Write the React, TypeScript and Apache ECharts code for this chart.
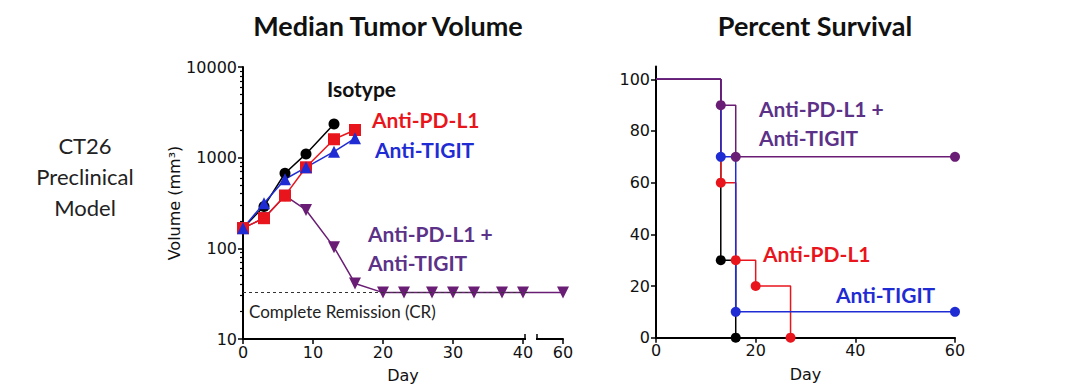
import React, { useEffect, useRef } from "react";
import * as echarts from "echarts";

// ---------- data ----------
const tumorDays = [0, 3, 6, 9, 13, 16];
const isotypeDays = [0, 3, 6, 9, 13];
const isotypeVol = [167, 290, 673, 1100, 2350];
const antiPdl1Vol = [167, 215, 381, 783, 1596, 2020];
const antiTigitVol = [167, 314, 578, 783, 1165, 1637];
const comboDays = [0, 3, 6, 9, 13, 16, 20, 23, 27, 30, 33, 37, 40, 60];
const comboVol = [167, 215, 381, 265, 103, 41, 32.5, 32.5, 32.5, 32.5, 32.5, 32.5, 32.5, 32.5];
const crLevel = 32.5;

const volTicks = [10, 100, 1000, 10000];
const volMinorTicks = [20, 30, 40, 50, 60, 70, 80, 90, 200, 300, 400, 500, 600, 700, 800, 900, 2000, 3000, 4000, 5000, 6000, 7000, 8000, 9000];
const dayTicksLeft = [0, 10, 20, 30, 40, 60];

const isoSurvDays = [0, 13, 16];
const isoSurv = [100, 30, 0];
const pdl1SurvDays = [0, 13, 16, 20, 27];
const pdl1Surv = [100, 60, 30, 20, 0];
const tigitSurvDays = [0, 13, 16, 60];
const tigitSurv = [100, 70, 10, 10];
const comboSurvDays = [0, 13, 16, 60];
const comboSurv = [100, 90, 70, 70];
const survTicks = [0, 20, 40, 60, 80, 100];
const dayTicksRight = [0, 20, 40, 60];

// broken x axis: days 0..40 linear, then a break, 60 placed just after
const breakStart = 40;
const breakEndDisplay = 45.71;
const xDisp = (d: number) => (d <= breakStart ? d : breakStart + ((d - breakStart) / 20) * (breakEndDisplay - breakStart));

const BLACK = "#000000";
const RED = "#e8161c";
const BLUE = "#1f2bd3";
const PURPLE = "#6a1d74";
const PURPLE_TXT = "#5c3288";

const tickFont = { fontFamily: "DejaVu Sans", fontSize: 16, color: "#111" };

export default function App() {
  const ref = useRef<HTMLDivElement>(null);
  useEffect(() => {
    if (!ref.current) return;
    const chart = echarts.init(ref.current, null, { renderer: "svg" });
    const pair = (xs: number[], ys: number[]) => xs.map((x, i) => [xDisp(x), ys[i]]);
    const survPair = (xs: number[], ys: number[]) =>
      xs.map((x, i) => (i === 0 ? { value: [x, ys[i]], symbol: "none" } : { value: [x, ys[i]] }));

    const boldText = (text: string, x: number, y: number, fill: string, size = 21) => ({
      type: "text",
      x,
      y,
      style: { text, fill, font: `bold ${size}px Lato`, textVerticalAlign: "middle" },
    });

    const option: any = {
      animation: false,
      backgroundColor: "#ffffff",
      grid: [
        { left: 243, top: 67, width: 320, height: 272 },
        { left: 656, top: 66.4, width: 299, height: 271.3 },
      ],
      xAxis: [
        {
          gridIndex: 0,
          type: "value",
          min: 0,
          max: breakEndDisplay,
          splitLine: { show: false },
          axisLine: { lineStyle: { color: "#000", width: 2 } },
          axisTick: { length: 5, lineStyle: { color: "#000", width: 1.5 }, customValues: dayTicksLeft.map(xDisp) },
          axisLabel: {
            ...tickFont,
            margin: 5,
            customValues: dayTicksLeft.map(xDisp),
            formatter: (v: number) => {
              const i = dayTicksLeft.map(xDisp).findIndex((t) => Math.abs(t - v) < 1e-6);
              return i >= 0 ? String(dayTicksLeft[i]) : "";
            },
          },
          name: "Day",
          nameLocation: "middle",
          nameGap: 28,
          nameTextStyle: { fontFamily: "DejaVu Sans", fontSize: 16, color: "#111" },
        },
        {
          gridIndex: 1,
          type: "value",
          min: 0,
          max: 60,
          splitLine: { show: false },
          axisLine: { lineStyle: { color: "#000", width: 2 } },
          axisTick: { length: 5, lineStyle: { color: "#000", width: 1.5 }, customValues: dayTicksRight },
          axisLabel: { ...tickFont, margin: 5, customValues: dayTicksRight },
          name: "Day",
          nameLocation: "middle",
          nameGap: 29,
          nameTextStyle: { fontFamily: "DejaVu Sans", fontSize: 16, color: "#111" },
        },
      ],
      yAxis: [
        {
          gridIndex: 0,
          type: "log",
          logBase: 10,
          min: 10,
          max: 10000,
          splitLine: { show: false },
          axisLine: { lineStyle: { color: "#000", width: 2 } },
          axisTick: { length: 5, lineStyle: { color: "#000", width: 1.5 }, customValues: volTicks },
          axisLabel: { ...tickFont, margin: 6, customValues: volTicks, formatter: (v: number) => String(Math.round(v)) },
          name: "Volume (mm³)",
          nameLocation: "middle",
          nameGap: 52,
          nameTextStyle: { fontFamily: "DejaVu Sans", fontSize: 16, color: "#111" },
        },
        {
          gridIndex: 0,
          type: "log",
          logBase: 10,
          min: 10,
          max: 10000,
          position: "left",
          splitLine: { show: false },
          axisLine: { show: false },
          axisTick: { length: 3, lineStyle: { color: "#000", width: 1.2 }, customValues: volMinorTicks },
          axisLabel: { show: false },
        },
        {
          gridIndex: 1,
          type: "value",
          min: 0,
          max: 105,
          splitLine: { show: false },
          axisLine: { lineStyle: { color: "#000", width: 2 } },
          axisTick: { length: 5, lineStyle: { color: "#000", width: 1.5 }, customValues: survTicks },
          axisLabel: { ...tickFont, margin: 6, customValues: survTicks },
        },
      ],
      series: [
        {
          type: "line",
          xAxisIndex: 0,
          yAxisIndex: 0,
          data: pair(isotypeDays, isotypeVol),
          symbol: "circle",
          symbolSize: 11,
          clip: false,
          lineStyle: { color: BLACK, width: 1.5 },
          itemStyle: { color: BLACK },
        },
        {
          type: "line",
          xAxisIndex: 0,
          yAxisIndex: 0,
          data: pair(comboDays, comboVol),
          symbol: "triangle",
          symbolRotate: 180,
          symbolSize: 12,
          clip: false,
          lineStyle: { color: PURPLE, width: 1.5 },
          itemStyle: { color: PURPLE },
          markLine: {
            silent: true,
            symbol: "none",
            label: { show: false },
            lineStyle: { color: "#333", type: [3, 3], width: 1 },
            data: [[{ coord: [0, crLevel] }, { coord: [xDisp(43), crLevel] }]],
          },
        },
        {
          type: "line",
          xAxisIndex: 0,
          yAxisIndex: 0,
          data: pair(tumorDays, antiPdl1Vol),
          symbol: "rect",
          symbolSize: 12,
          clip: false,
          lineStyle: { color: RED, width: 1.5 },
          itemStyle: { color: RED },
        },
        {
          type: "line",
          xAxisIndex: 0,
          yAxisIndex: 0,
          data: pair(tumorDays, antiTigitVol),
          symbol: "triangle",
          symbolSize: 12,
          clip: false,
          lineStyle: { color: BLUE, width: 1.5 },
          itemStyle: { color: BLUE },
        },
        // survival
        ...[
          [isoSurvDays, isoSurv, BLACK],
          [pdl1SurvDays, pdl1Surv, RED],
          [tigitSurvDays, tigitSurv, BLUE],
          [comboSurvDays, comboSurv, PURPLE],
        ].map(([xs, ys, c]: any) => ({
          type: "line",
          xAxisIndex: 1,
          yAxisIndex: 2,
          step: "end",
          data: survPair(xs, ys),
          symbol: "circle",
          symbolSize: 10,
          clip: false,
          lineStyle: { color: c, width: 1.5 },
          itemStyle: { color: c },
        })),
      ],
      graphic: [
        { type: "text", x: 388, y: 25, style: { text: "Median Tumor Volume", fill: "#111", font: "bold 27px Lato", textAlign: "center", textVerticalAlign: "middle" } },
        { type: "text", x: 815, y: 25, style: { text: "Percent Survival", fill: "#111", font: "bold 27px Lato", textAlign: "center", textVerticalAlign: "middle" } },
        { type: "text", x: 85, y: 145, style: { text: "CT26", fill: "#222", font: "22px Lato", textAlign: "center", textVerticalAlign: "middle" } },
        { type: "text", x: 85, y: 176, style: { text: "Preclinical", fill: "#222", font: "22px Lato", textAlign: "center", textVerticalAlign: "middle" } },
        { type: "text", x: 85, y: 207, style: { text: "Model", fill: "#222", font: "22px Lato", textAlign: "center", textVerticalAlign: "middle" } },
        // axis break
        { type: "rect", shape: { x: 526, y: 334, width: 10, height: 10 }, style: { fill: "#ffffff" }, z: 100 },
        { type: "line", shape: { x1: 525, y1: 334, x2: 525, y2: 340 }, style: { stroke: "#000", lineWidth: 1.5 }, z: 101 },
        { type: "line", shape: { x1: 537, y1: 334, x2: 537, y2: 340 }, style: { stroke: "#000", lineWidth: 1.5 }, z: 101 },
        // labels left
        boldText("Isotype", 327, 88, "#111"),
        boldText("Anti-PD-L1", 372, 119, RED),
        boldText("Anti-TIGIT", 375, 149, BLUE),
        boldText("Anti-PD-L1 +", 368, 233, PURPLE_TXT),
        boldText("Anti-TIGIT", 368, 262, PURPLE_TXT),
        { type: "text", x: 249, y: 311, style: { text: "Complete Remission (CR)", fill: "#222", font: "17px Lato", textVerticalAlign: "middle" } },
        // labels right
        boldText("Anti-PD-L1 +", 759, 108, PURPLE_TXT),
        boldText("Anti-TIGIT", 759, 137, PURPLE_TXT),
        boldText("Anti-PD-L1", 763, 253, RED),
        boldText("Anti-TIGIT", 836, 294, BLUE),
      ],
    };
    chart.setOption(option);
    return () => chart.dispose();
  }, []);
  return <div ref={ref} style={{ position: "fixed", left: 0, top: 0, width: 1080, height: 391 }} />;
}
